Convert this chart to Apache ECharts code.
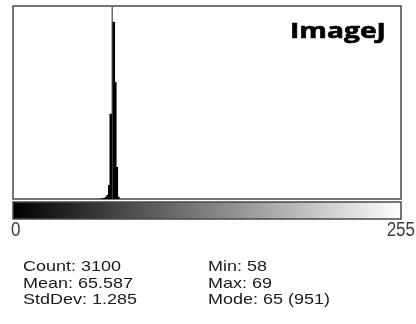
<!DOCTYPE html>
<html>
<head>
<meta charset="utf-8">
<script src="https://cdn.jsdelivr.net/npm/echarts@6/dist/echarts.min.js"></script>
<style>
  html, body { margin: 0; padding: 0; background: #ffffff; }
  #chart { width: 416px; height: 324px; }
</style>
</head>
<body>
<div id="chart"></div>
<script>
// Gray levels shown along the histogram (8-bit range)
const levels = Array.from({ length: 256 }, (_, i) => i);
// Pixel counts for the occupied gray levels, beginning at firstLevel
const firstLevel = 58;
const counts = [2, 3, 6, 11, 20, 69, 420, 951, 873, 576, 158, 11];
// Labels under the intensity ramp
const rangeLabels = ['0', '255'];
const titleText = 'ImageJ';

// Full 256-bin histogram built from the occupied bins
const histogram = levels.map(v => {
  const k = v - firstLevel;
  return (k >= 0 && k < counts.length) ? counts[k] : 0;
});

// Summary statistics computed from the histogram
const total = histogram.reduce((a, b) => a + b, 0);
let sum = 0, sumSq = 0;
histogram.forEach((c, v) => { sum += c * v; sumSq += c * v * v; });
const mean = sum / total;
const stdDev = Math.sqrt((sumSq - sum * sum / total) / (total - 1));
const minLevel = histogram.findIndex(c => c > 0);
let maxLevel = 255;
while (maxLevel > 0 && histogram[maxLevel] === 0) maxLevel--;
let modeLevel = 0;
histogram.forEach((c, v) => { if (c > histogram[modeLevel]) modeLevel = v; });
const modeCount = histogram[modeLevel];

const leftStats = [
  'Count: ' + total,
  'Mean: ' + mean.toFixed(3),
  'StdDev: ' + stdDev.toFixed(3)
];
const rightStats = [
  'Min: ' + minLevel,
  'Max: ' + maxLevel,
  'Mode: ' + modeLevel + ' (' + modeCount + ')'
];

const plot = { left: 13, top: 6, width: 388, height: 193 };
const ramp = { x: 13, y: 202, width: 388, height: 17 };
const frameColor = '#484848';

function statText(str, x, y) {
  return {
    type: 'text',
    x: x, y: y,
    scaleX: 1.24,
    style: {
      text: str,
      fill: '#1a1a1a',
      font: '14.5px "Liberation Sans", Arial, sans-serif',
      align: 'left',
      verticalAlign: 'middle'
    }
  };
}

const statRowsY = [267, 283.5, 300];
const graphics = [];
leftStats.forEach((s, i) => graphics.push(statText(s, 23, statRowsY[i])));
rightStats.forEach((s, i) => graphics.push(statText(s, 208, statRowsY[i])));

graphics.push({
  type: 'rect',
  shape: { x: ramp.x, y: ramp.y, width: ramp.width, height: ramp.height },
  style: {
    fill: new echarts.graphic.LinearGradient(0, 0, 1, 0, [
      { offset: 0, color: '#000000' },
      { offset: 1, color: '#ffffff' }
    ]),
    stroke: frameColor,
    lineWidth: 1.5
  }
});
graphics.push({
  type: 'text', x: 11, y: 230.5, scaleX: 0.85,
  style: { text: rangeLabels[0], fill: '#3c3c3c', font: '20px "Liberation Sans", Arial, sans-serif', align: 'left', verticalAlign: 'middle' }
});
graphics.push({
  type: 'text', x: 415, y: 230.5, scaleX: 0.85,
  style: { text: rangeLabels[1], fill: '#3c3c3c', font: '20px "Liberation Sans", Arial, sans-serif', align: 'right', verticalAlign: 'middle' }
});
graphics.push({
  type: 'text', x: 290, y: 32, scaleX: 1.28,
  style: { text: titleText, fill: '#000000', font: 'bold 22px "Open Sans", sans-serif', align: 'left', verticalAlign: 'middle', stroke: '#000000', lineWidth: 0.6 }
});

// Each bin is a column over its category band. The modal bin is a thin
// gray line drawn underneath; the other bins spread half a pixel each way
// so neighbouring columns join into one solid shape.
function renderBin(params, api) {
  const level = api.value(0);
  const count = api.value(1);
  if (!count) return null;
  const top = api.coord([level, count]);
  const base = api.coord([level, 0]);
  const band = api.size([1, 0])[0];
  const isMode = level === modeLevel;
  const pad = isMode ? 0 : 0.5;
  return {
    type: 'rect',
    z2: isMode ? 0 : 1,
    shape: {
      x: top[0] - band / 2 - pad,
      y: top[1],
      width: band + 2 * pad,
      height: base[1] - top[1]
    },
    style: { fill: isMode ? '#6a6a6a' : '#000000' }
  };
}

const chart = echarts.init(document.getElementById('chart'), null, { renderer: 'canvas' });
chart.setOption({
  animation: false,
  backgroundColor: '#ffffff',
  grid: {
    show: true,
    left: plot.left, top: plot.top, width: plot.width, height: plot.height,
    borderColor: frameColor, borderWidth: 1.5,
    backgroundColor: '#ffffff'
  },
  xAxis: {
    type: 'category',
    data: levels,
    boundaryGap: true,
    show: false
  },
  yAxis: {
    type: 'value',
    min: 0,
    max: modeCount,
    show: false
  },
  series: [{
    type: 'custom',
    renderItem: renderBin,
    data: histogram.map((c, v) => [v, c]),
    encode: { x: 0, y: 1 },
    silent: true
  }],
  graphic: graphics
});
</script>
</body>
</html>
